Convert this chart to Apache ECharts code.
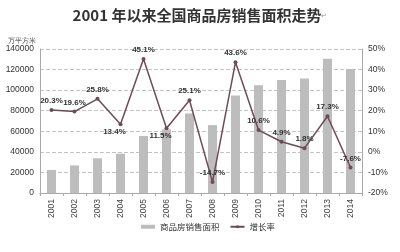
<!DOCTYPE html>
<html><head><meta charset="utf-8">
<script src="https://cdn.jsdelivr.net/npm/echarts@6/dist/echarts.min.js"></script>
<style>html,body{margin:0;padding:0;background:#fff}#c{width:400px;height:252px}</style>
</head><body><div id="c"></div>
<script>
var years = ['2001','2002','2003','2004','2005','2006','2007','2008','2009','2010','2011','2012','2013','2014'];
var salesArea = [22412,26808,33718,38232,55486,61857,77355,65970,94755,104765,109946,111304,130551,120649];
var growthRate = [20.3,19.6,25.8,13.4,45.1,11.5,25.1,-14.7,43.6,10.6,4.9,1.8,17.3,-7.6];
var leftTicks = [0,20000,40000,60000,80000,100000,120000,140000];
var rightTicks = [-20,-10,0,10,20,30,40,50];
var belowIdx = [3,5];

var chart = echarts.init(document.getElementById('c'));
var lineData = growthRate.map(function(v,i){
  var d = {value:v};
  if (belowIdx.indexOf(i) >= 0) d.label = {position:'bottom', distance:2, offset:[-6,0]};
  return d;
});
chart.setOption({
  backgroundColor:'#fff',
  animation:false,
  title:{text:'2001 年以来全国商品房销售面积走势{s|↵}', left:'center', top:3,
    textStyle:{fontFamily:'Noto Sans CJK SC', fontSize:15, fontWeight:'bold', color:'#333',
      rich:{s:{fontSize:7,color:'#999',fontWeight:'normal'}}}},
  grid:{left:40,right:38,top:49,bottom:59},
  legend:{bottom:16, left:136, itemGap:10, itemWidth:14, itemHeight:4,
    textStyle:{fontSize:8.5,color:'#333',fontFamily:'Noto Sans CJK SC'},
    data:[{name:'商品房销售面积', icon:'rect'},{name:'增长率'}]},
  xAxis:{type:'category', data:years,
    axisLine:{lineStyle:{color:'#aaa'}}, axisTick:{show:true,lineStyle:{color:'#aaa'},length:3},
    axisLabel:{rotate:90, fontSize:8.5, color:'#444', margin:6, fontFamily:'Liberation Sans'}},
  yAxis:[
    {type:'value', min:leftTicks[0], max:leftTicks[leftTicks.length-1], interval:20000,
     name:'万平方米', nameGap:4, nameTextStyle:{fontSize:7,color:'#444',align:'right',padding:[0,4,0,0]},
     axisLine:{show:true,lineStyle:{color:'#aaa'}}, axisTick:{show:false},
     axisLabel:{fontSize:8.5,color:'#333',margin:6,fontFamily:'Liberation Sans',formatter:function(v){return String(v);}},
     splitLine:{lineStyle:{color:'#c4c4c4',type:'dashed'}}},
    {type:'value', min:rightTicks[0], max:rightTicks[rightTicks.length-1], interval:10,
     axisLine:{show:true,lineStyle:{color:'#aaa'}}, axisTick:{show:false},
     axisLabel:{formatter:'{value}%',fontSize:8.5,color:'#333',margin:6,fontFamily:'Liberation Sans'},
     splitLine:{show:false}}
  ],
  series:[
    {name:'商品房销售面积', type:'bar', data:salesArea, barWidth:9, yAxisIndex:0,
     itemStyle:{color:'#bdbdbd'}},
    {name:'增长率', type:'line', data:lineData, yAxisIndex:1,
     symbol:'circle', symbolSize:4, lineStyle:{color:'#6e4b55', width:1.5},
     itemStyle:{color:'#6e4b55'},
     label:{show:true, position:'top', distance:3, formatter:function(p){return p.value.toFixed(1)+'%';},
       fontSize:8, color:'#333', fontWeight:'bold', fontFamily:'Liberation Sans'}}
  ]
});
</script></body></html>
